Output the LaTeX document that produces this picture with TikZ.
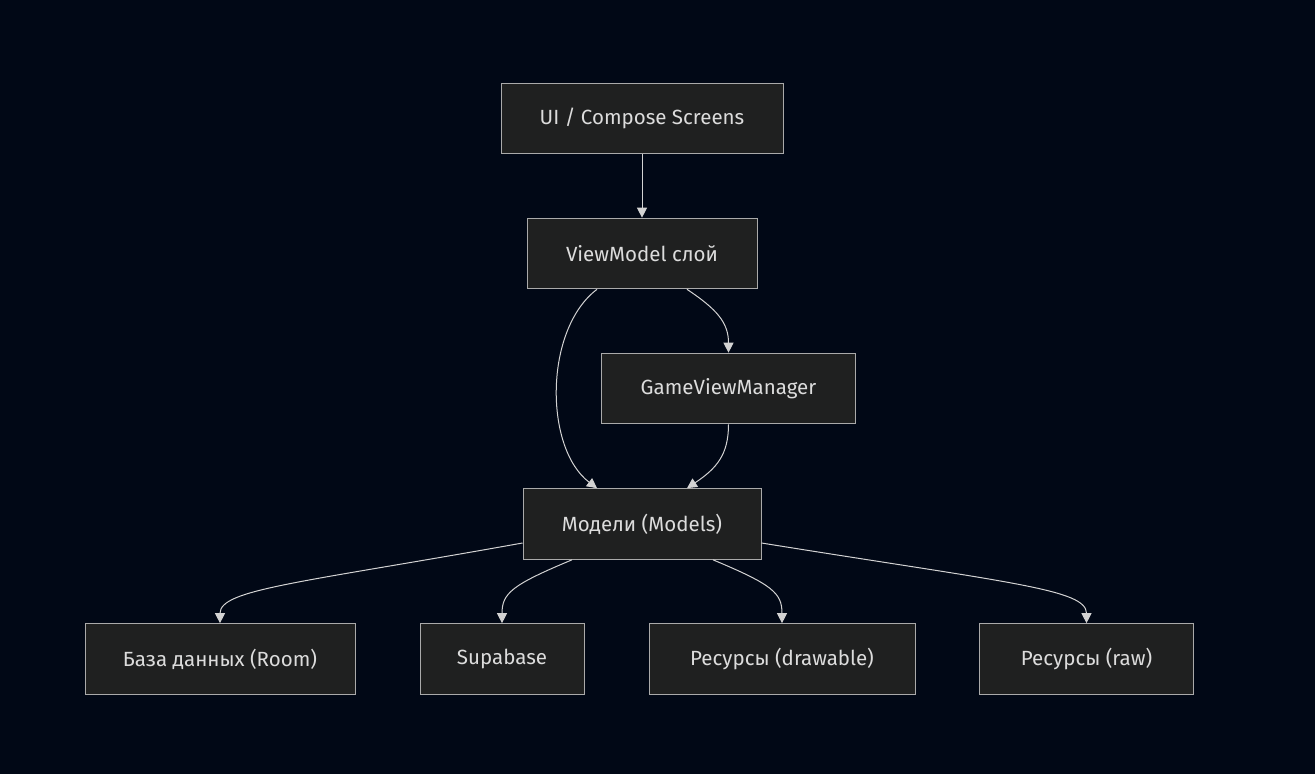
\documentclass[tikz,border=0pt]{standalone}
\usepackage{fontspec}
\setmainfont{Fira Sans}
\usetikzlibrary{arrows.meta, calc}

\definecolor{bgnavy}{RGB}{1,8,22}
\definecolor{boxfill}{RGB}{31,32,32}
\definecolor{boxline}{RGB}{170,170,170}
\definecolor{edgegray}{RGB}{211,211,211}
\definecolor{txtgray}{RGB}{220,220,220}

\begin{document}
\begin{tikzpicture}[x=0.75pt, y=-0.75pt, font=\fontsize{15.4}{18}\selectfont,
    layer/.style={draw=boxline, fill=boxfill, text=txtgray, line width=0.75pt,
                  minimum height=53pt, inner sep=0pt},
    link/.style={draw=edgegray, line width=0.75pt,
                 -{Triangle[length=7.5pt, width=7.5pt]}}]
  \useasboundingbox[fill=bgnavy] (0,0) rectangle (1315,774);

  % layers
  \node[layer, minimum width=211.5pt] (ui) at (642,118.5) {UI / Compose Screens};
  \node[layer, minimum width=172.5pt] (vm) at (642,253.5) {ViewModel слой};
  \node[layer, minimum width=191pt] (gvm) at (728.5,388.5) {GameViewManager};
  \node[layer, minimum width=178.5pt] (mod) at (642,524) {Модели (Models)};

  % data sources
  \node[layer, minimum width=202.5pt] (db) at (220,659) {База данных (Room)};
  \node[layer, minimum width=123pt] (supa) at (502,659) {Supabase};
  \node[layer, minimum width=199.5pt] (resd) at (782,659) {Ресурсы (drawable)};
  \node[layer, minimum width=161pt] (resr) at (1086.5,659) {Ресурсы (raw)};

  \draw[link] (ui) -- (vm);
  \draw[link] ($(vm.south)+(-45,0)$) .. controls +(-53,40) and +(-53,-40) .. ($(mod.north)+(-45,0)$);
  \draw[link] ($(vm.south)+(45,0)$) .. controls +(30,20) and +(0,-30) .. (gvm.north);
  \draw[link] (gvm.south) .. controls +(0,30) and +(30,-20) .. ($(mod.north)+(45,0)$);

  \draw[link] ($(mod.west)+(0,19)$) .. controls +(-223,40) and +(0,-34) .. (db.north);
  \draw[link] ($(mod.south)+(-70,0)$) .. controls +(-60,25) and +(0,-30) .. (supa.north);
  \draw[link] ($(mod.south)+(71,0)$) .. controls +(60,25) and +(0,-30) .. (resd.north);
  \draw[link] ($(mod.east)+(0,19)$) .. controls +(249,40) and +(0,-34) .. (resr.north);
\end{tikzpicture}
\end{document}
